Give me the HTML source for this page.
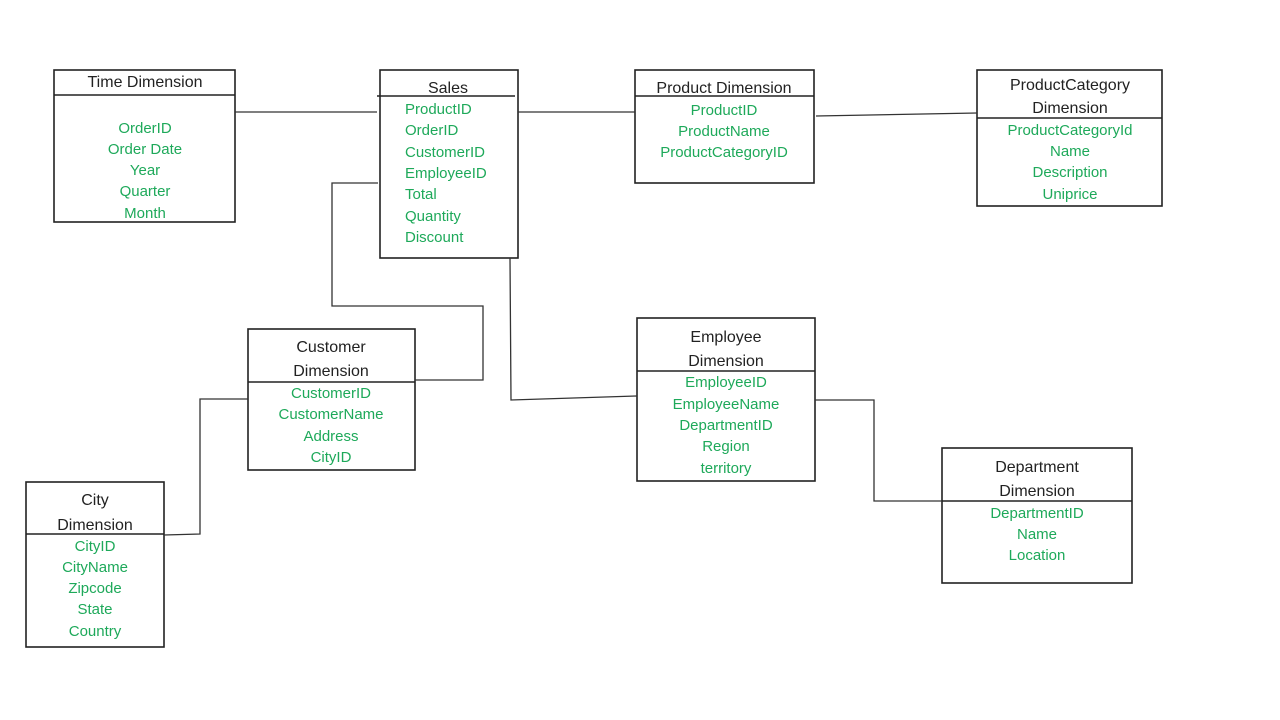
<!DOCTYPE html>
<html><head><meta charset="utf-8"><style>
html,body{margin:0;padding:0;background:#fff;}
svg{display:block}
text{font-family:"Liberation Sans",sans-serif;font-size:15px;}
.t{fill:#222;text-anchor:middle;font-size:16px}
.g{fill:#1ea95a;text-anchor:middle}
.gl{fill:#1ea95a}
</style></head><body>
<svg width="1280" height="720" viewBox="0 0 1280 720">
<g fill="none" stroke="#222" stroke-width="1.6">
<rect x="54" y="70" width="181" height="152"/><line x1="54" y1="95" x2="235" y2="95"/>
<rect x="380" y="70" width="138" height="188"/><line x1="377" y1="96" x2="515" y2="96"/>
<rect x="635" y="70" width="179" height="113"/><line x1="635" y1="96" x2="814" y2="96"/>
<rect x="977" y="70" width="185" height="136"/><line x1="977" y1="118" x2="1162" y2="118"/>
<rect x="248" y="329" width="167" height="141"/><line x1="248" y1="382" x2="415" y2="382"/>
<rect x="637" y="318" width="178" height="163"/><line x1="637" y1="371" x2="815" y2="371"/>
<rect x="942" y="448" width="190" height="135"/><line x1="942" y1="501" x2="1132" y2="501"/>
<rect x="26" y="482" width="138" height="165"/><line x1="26" y1="534" x2="164" y2="534"/>
</g>
<g fill="none" stroke="#333" stroke-width="1.3">
<polyline points="235,112 377,112"/>
<polyline points="518,112 635,112"/>
<polyline points="816,116 977,113"/>
<polyline points="378,183 332,183 332,306 483,306 483,380 415,380"/>
<polyline points="510,258 511,400 637,396"/>
<polyline points="815,400 874,400 874,501 942,501"/>
<polyline points="248,399 200,399 200,534 164,535"/>
</g>
<text class="t" x="145" y="87">Time Dimension</text>
<text class="g" x="145" y="133">OrderID</text><text class="g" x="145" y="154">Order Date</text><text class="g" x="145" y="175">Year</text><text class="g" x="145" y="196">Quarter</text><text class="g" x="145" y="218">Month</text>
<text class="t" x="448" y="93">Sales</text>
<text class="gl" x="405" y="114">ProductID</text><text class="gl" x="405" y="135">OrderID</text><text class="gl" x="405" y="157">CustomerID</text><text class="gl" x="405" y="178">EmployeeID</text><text class="gl" x="405" y="199">Total</text><text class="gl" x="405" y="221">Quantity</text><text class="gl" x="405" y="242">Discount</text>
<text class="t" x="724" y="93">Product Dimension</text>
<text class="g" x="724" y="115">ProductID</text><text class="g" x="724" y="136">ProductName</text><text class="g" x="724" y="157">ProductCategoryID</text>
<text class="t" x="1070" y="90">ProductCategory</text><text class="t" x="1070" y="113">Dimension</text>
<text class="g" x="1070" y="135">ProductCategoryId</text><text class="g" x="1070" y="156">Name</text><text class="g" x="1070" y="177">Description</text><text class="g" x="1070" y="199">Uniprice</text>
<text class="t" x="331" y="352">Customer</text><text class="t" x="331" y="376">Dimension</text>
<text class="g" x="331" y="398">CustomerID</text><text class="g" x="331" y="419">CustomerName</text><text class="g" x="331" y="441">Address</text><text class="g" x="331" y="462">CityID</text>
<text class="t" x="726" y="342">Employee</text><text class="t" x="726" y="366">Dimension</text>
<text class="g" x="726" y="387">EmployeeID</text><text class="g" x="726" y="409">EmployeeName</text><text class="g" x="726" y="430">DepartmentID</text><text class="g" x="726" y="451">Region</text><text class="g" x="726" y="473">territory</text>
<text class="t" x="1037" y="472">Department</text><text class="t" x="1037" y="496">Dimension</text>
<text class="g" x="1037" y="518">DepartmentID</text><text class="g" x="1037" y="539">Name</text><text class="g" x="1037" y="560">Location</text>
<text class="t" x="95" y="505">City</text><text class="t" x="95" y="530">Dimension</text>
<text class="g" x="95" y="551">CityID</text><text class="g" x="95" y="572">CityName</text><text class="g" x="95" y="593">Zipcode</text><text class="g" x="95" y="614">State</text><text class="g" x="95" y="636">Country</text>
</svg>
</body></html>
